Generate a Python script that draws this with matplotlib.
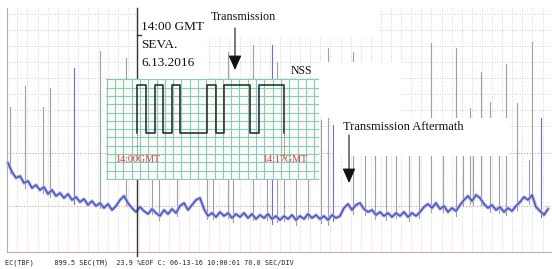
import numpy as np
import matplotlib
matplotlib.use("Agg")
import matplotlib.pyplot as plt
from matplotlib.patches import Rectangle

# recorder trace, sampled every 4 px across the strip (screen y, down = lower)
trace_x = np.arange(8, 549, 4)
trace_y = [
    163, 172, 178, 176, 183, 181, 188, 185, 190, 187,
    194, 190, 196, 193, 198, 194, 200, 197, 202, 199,
    205, 201, 206, 203, 208, 204, 210, 206, 200, 196,
    203, 208, 212, 207, 211, 214, 209, 213, 216, 210,
    214, 209, 213, 206, 203, 210, 205, 200, 198, 209,
    216, 213, 217, 212, 216, 213, 218, 214, 217, 213,
    218, 214, 219, 215, 218, 214, 219, 216, 220, 216,
    219, 215, 220, 216, 219, 214, 218, 215, 219, 216,
    220, 215, 218, 216, 208, 204, 210, 205, 203, 209,
    212, 210, 215, 212, 216, 213, 217, 213, 216, 212,
    217, 213, 216, 212, 207, 204, 208, 203, 209, 206,
    212, 208, 211, 205, 200, 196, 201, 195, 198, 204,
    208, 205, 210, 207, 212, 208, 211, 206, 202, 197,
    200, 195, 207, 211, 215, 209,
]

# spikes: position and top of each vertical pulse
spike_x = [10, 25, 43, 50, 74, 100, 126, 152, 159, 177, 207, 213, 228, 233,
           253, 267, 272, 277, 284, 296, 308, 321, 328, 333, 353, 365, 375,
           386, 396, 409, 419, 431, 443, 456, 463, 470, 473, 481, 490, 499,
           506, 517, 529, 532, 541]
spike_top = [107, 86, 107, 88, 68, 51, 58, 120, 120, 120, 120, 120, 52, 120,
             45, 120, 45, 62, 120, 120, 120, 120, 48, 125, 52, 140, 140,
             140, 140, 140, 140, 43, 140, 48, 140, 108, 140, 72, 102, 140,
             64, 103, 160, 42, 118]
blue_spikes = [74, 272, 333, 541]

# NSS keying pattern in the inset
wave_edges = [137, 146, 155, 163, 172, 180, 207, 216, 224, 250, 259, 284]
wave_levels = [1, 0, 1, 0, 1, 0, 1, 0, 1, 0, 1, 0]

fig = plt.figure(figsize=(5.52, 2.69), dpi=100)
ax = fig.add_axes([0, 0, 1, 1])
ax.set_xlim(0, 552)
ax.set_ylim(269, 0)
ax.axis("off")

# chart paper grid
grid_kw = dict(color="#c8c8c8", lw=0.6, ls=(0, (1, 2)), zorder=1)
for gx in np.arange(7.3, 550, 10.1):
    ax.plot([gx, gx], [8, 252], **grid_kw)
for gy in np.arange(13.5, 130, 16):
    ax.plot([7, 552], [gy, gy], color="#cdbdbd", lw=0.6, ls=(0, (1, 2)), zorder=1)
for gy in [153, 206]:
    ax.plot([7, 552], [gy, gy], color="#d4a0a0", lw=0.8, ls=(0, (1, 1.5)), zorder=1)
ax.plot([7, 552], [252, 252], color="#d8a8a8", lw=0.8, zorder=1)
ax.plot([7, 7], [8, 252], color="#b0b0b0", lw=0.8, zorder=1)

# spikes
foot = np.interp(spike_x, trace_x, trace_y) + 5
for sx, st, sf in zip(spike_x, spike_top, foot):
    col = "#6e6ec8" if sx in blue_spikes else "#9e9eaa"
    ax.plot([sx, sx], [st, sf], color=col, lw=0.8, zorder=2)

# trace
ax.plot(trace_x, trace_y, color="#b0b0c4", lw=2.4, zorder=3)
ax.plot(trace_x, trace_y, color="#2f3fe0", lw=0.8, zorder=3.5)

# pasted blank areas
for x0, y0, x1, y1 in [(137, 0, 207, 79), (207, 0, 380, 38),
                       (319, 62, 402, 118), (334, 118, 510, 156),
                       (276, 0, 380, 30)]:
    ax.add_patch(Rectangle((x0, y0), x1 - x0, y1 - y0, fc="white",
                           ec="none", zorder=4))

ax.plot([137, 137], [8, 256], color="#333333", lw=1.0, zorder=6)
ax.plot([137, 141], [35, 35], color="#333333", lw=1.0, zorder=6)

# inset
ins = fig.add_axes([106 / 552, 1 - 180 / 269, 213 / 552, 101 / 269], zorder=5)
ins.set_xlim(106, 319)
ins.set_ylim(180, 79)
ins.set_facecolor("#fbfbf1")
for s in ins.spines.values():
    s.set_visible(False)
ins.set_xticks([])
ins.set_yticks([])
for gx in np.arange(106.7, 319, 8.3):
    ins.axvline(gx, color="#84c8cc", lw=0.8)
for gy in np.arange(79.3, 180, 8.3):
    ins.axhline(gy, color="#84c8cc", lw=0.8)
lvl_y = {1: 85, 0: 133}
wx = [wave_edges[0]]
wy = [lvl_y[0]]
for e, lv in zip(wave_edges, wave_levels):
    wx += [e, e]
    wy += [wy[-1], lvl_y[lv]]
ins.plot(wx, wy, color="#222222", lw=1.1)
ins.plot([wave_edges[0]] * 2, [133, 160], color="#444444", lw=0.6, ls=(0, (1, 1)))
ins.plot([wave_edges[-1]] * 2, [133, 160], color="#444444", lw=0.6, ls=(0, (1, 1)))
red_kw = dict(color="#d84040", fontsize=7.2, family="Liberation Serif", va="center")
ins.text(115, 159, "14:00GMT", **red_kw)
ins.text(262, 159, "14:17GMT", **red_kw)

# annotations
serif = dict(family="Liberation Serif", color="#111111", zorder=7, va="center")
ax.text(141, 27, "14:00 GMT", fontsize=9.5, **serif)
ax.text(141, 45, "SEVA.", fontsize=9.5, **serif)
ax.text(141, 63, "6.13.2016", fontsize=9.5, **serif)
ax.text(211, 17, "Transmission", fontsize=8.7, **serif)
ax.text(291, 71, "NSS", fontsize=8.5, **serif)
ax.text(343, 127, "Transmission Aftermath", fontsize=9, **serif)

arrow = dict(arrowstyle="-|>,head_length=0.9,head_width=0.4", color="#111111",
             lw=0.8, shrinkA=0, shrinkB=0, mutation_scale=10)
ax.annotate("", xy=(235, 70), xytext=(235, 28), arrowprops=arrow, zorder=7)
ax.annotate("", xy=(349, 183), xytext=(349, 135), arrowprops=arrow, zorder=7)

ax.text(5, 263, "EC(TBF)     899.5 SEC(TM)  23.9 %EOF C: 06-13-16 10:00:01 70.0 SEC/DIV",
        family="DejaVu Sans Mono", fontsize=4.9, color="#222222", va="center")

fig.savefig("out.png", dpi=100)
